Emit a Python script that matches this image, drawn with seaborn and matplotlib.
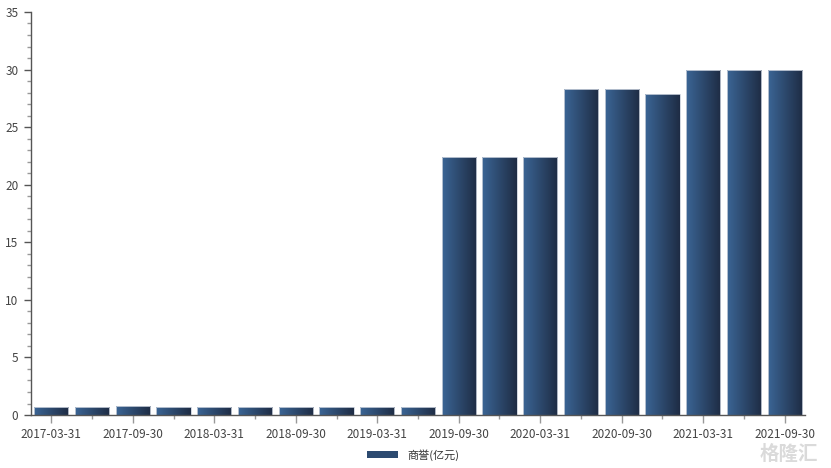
import numpy as np
import pandas as pd
import matplotlib
matplotlib.use("Agg")
import matplotlib.pyplot as plt
import seaborn as sns
from matplotlib.colors import LinearSegmentedColormap
from matplotlib.patches import Patch

# data
dates = ["2017-03-31", "2017-06-30", "2017-09-30", "2017-12-31",
         "2018-03-31", "2018-06-30", "2018-09-30", "2018-12-31",
         "2019-03-31", "2019-06-30", "2019-09-30", "2019-12-31",
         "2020-03-31", "2020-06-30", "2020-09-30", "2020-12-31",
         "2021-03-31", "2021-06-30", "2021-09-30"]
goodwill = [0.7, 0.7, 0.78, 0.7, 0.7, 0.7, 0.7, 0.7, 0.7, 0.7,
            22.4, 22.4, 22.4, 28.3, 28.3, 27.9, 30.0, 30.0, 30.0]
series_name = "商誉(亿元)"

df = pd.DataFrame({"date": dates, "value": goodwill})

sns.set_theme(style="white")
plt.rcParams["font.family"] = ["Noto Sans CJK SC", "DejaVu Sans"]

fig = plt.figure(figsize=(8.31, 4.68), dpi=100)
ax = fig.add_axes([0.0373, 0.1132, 0.9314, 0.8612])

sns.barplot(data=df, x="date", y="value", ax=ax, color="#2c4a70",
            width=0.84, edgecolor="#c9d0db", linewidth=0.6)

# horizontal gradient fill inside each bar
cmap = LinearSegmentedColormap.from_list("bar", ["#3b6595", "#1e2c44"])
grad = np.linspace(0, 1, 256).reshape(1, -1)
for p in ax.patches:
    x0, y0 = p.get_x(), p.get_y()
    w, h = p.get_width(), p.get_height()
    im = ax.imshow(grad, cmap=cmap, aspect="auto",
                   extent=(x0, x0 + w, y0, y0 + h), zorder=p.get_zorder() + 0.1)
    im.set_clip_path(p)
    p.set_facecolor("none")
    p.set_zorder(p.get_zorder() + 0.2)

ax.set_xlim(-0.5, len(dates) - 0.5)
ax.set_ylim(0, 35)
ax.set_xlabel("")
ax.set_ylabel("")

# axis ticks
major = list(range(0, len(dates), 2))
minor = list(range(1, len(dates), 2))
ax.set_xticks(major)
ax.set_xticklabels([dates[i] for i in major])
ax.set_xticks(minor, minor=True)
ax.set_yticks(np.arange(0, 36, 5))
ax.set_yticks(np.arange(0, 36, 1), minor=True)

axis_col = "#555555"
for s in ["top", "right"]:
    ax.spines[s].set_visible(False)
for s in ["left", "bottom"]:
    ax.spines[s].set_color(axis_col)
    ax.spines[s].set_linewidth(1.0)

ax.tick_params(axis="x", which="major", length=6, width=1, color="#999999",
               labelsize=8.5, labelcolor="#444444", pad=3, bottom=True)
ax.tick_params(axis="x", which="minor", length=3, width=1, color="#999999", bottom=True)
ax.tick_params(axis="y", which="major", length=5, width=1, color=axis_col,
               labelsize=8.5, labelcolor="#444444", pad=4, left=True)
ax.tick_params(axis="y", which="minor", length=3, width=1, color="#999999", left=True)

# legend at bottom center
handle = Patch(facecolor="#2c4a70", edgecolor="none")
fig.legend([handle], [series_name], loc="center", bbox_to_anchor=(0.497, 0.028),
           frameon=False, fontsize=8, handlelength=2.8, handleheight=0.6,
           labelcolor="#333333")

# watermark
fig.text(0.985, 0.028, "格隆汇", ha="right", va="center", fontsize=14,
         color="#dadada", fontweight="bold")

fig.savefig("out.png", dpi=100)
